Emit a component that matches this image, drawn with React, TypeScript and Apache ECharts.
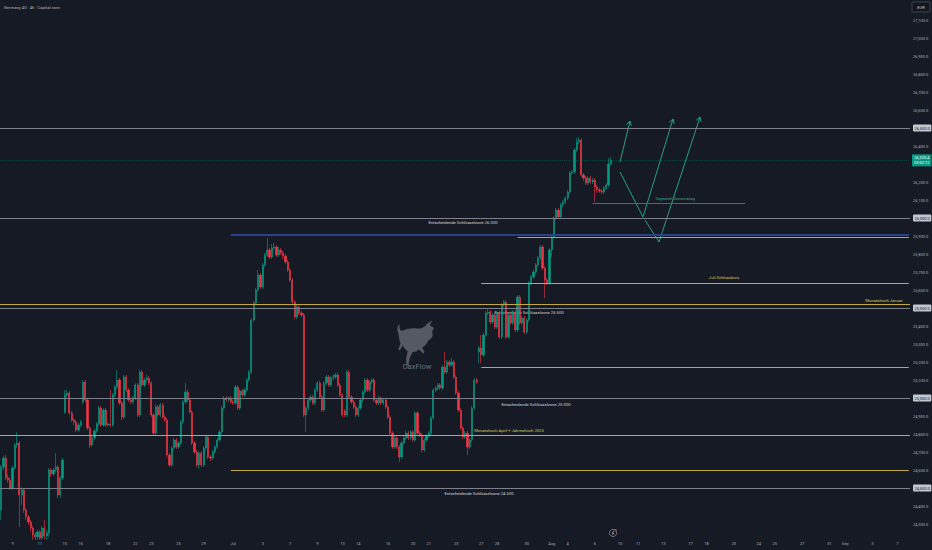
import React, { useEffect, useRef } from 'react';
import * as echarts from 'echarts';

// ---- candle data (4h bars) ----
const opens = [
  24378, 24617, 24667, 24555, 24544, 24500, 24611, 24739, 24750, 24461,
  24489, 24378, 24339, 24311, 24278, 24239, 24228, 24256, 24222, 24278,
  24233, 24250, 24600, 24578, 24600, 24617, 24461, 24555, 24922, 25017,
  25028, 24917, 24878, 24867, 24822, 24850, 24978, 25089, 24989, 24833,
  24739, 24778, 24817, 24855, 24944, 24850, 24933, 24850, 24855, 24850,
  25017, 25061, 25100, 24972, 24894, 25117, 25044, 24989, 24978, 25000,
  25072, 24906, 25144, 25072, 25100, 25111, 25083, 24906, 24805, 24950,
  24906, 24961, 24894, 24878, 24683, 24628, 24722, 24767, 24728, 24750,
  24867, 24978, 25033, 24989, 24922, 24750, 24700, 24628, 24694, 24628,
  24722, 24783, 24672, 24667, 24700, 24728, 24767, 24811, 24944, 25000,
  24989, 25000, 24978, 24972, 25061, 24944, 25039, 25017, 25044, 25100,
  25144, 25433, 25528, 25600, 25683, 25617, 25739, 25794, 25822, 25783,
  25833, 25839, 25794, 25822, 25806, 25789, 25756, 25711, 25656, 25533,
  25450, 25505, 25472, 25461, 24906, 24944, 24989, 25005, 24972, 25044,
  25083, 25005, 24933, 25083, 25117, 25072, 25111, 25117, 25128, 25072,
  25017, 24928, 24906, 25144, 25005, 24978, 24950, 24906, 24944, 24989,
  25033, 25100, 25044, 25089, 25100, 24989, 24972, 25000, 24972, 24989,
  24950, 24894, 24805, 24728, 24778, 24728, 24672, 24750, 24778, 24805,
  24778, 24811, 24767, 24917, 24805, 24794, 24711, 24767, 24789, 24805,
  24889, 25044, 25055, 25072, 25055, 25172, 25144, 25200, 25183, 25200,
  25117, 25028, 24933, 24833, 24783, 24805, 24728, 24767, 24944, 25100,
  25255, 25278, 25239, 25350, 25472, 25478, 25422, 25461, 25394, 25472,
  25339, 25517, 25533, 25339, 25461, 25417, 25478, 25378, 25561, 25417,
  25444, 25367, 25433, 25639, 25672, 25700, 25739, 25778, 25839, 25722,
  25656, 25639, 25822, 25894, 26000, 26044, 26006, 26072, 26089, 26111,
  26144, 26250, 26256, 26378, 26422, 26433, 26239, 26222, 26194, 26222,
  26200, 26211, 26172, 26156, 26150, 26144, 26167, 26183, 26300,
];
const closes = [
  24617, 24667, 24555, 24544, 24500, 24611, 24739, 24750, 24461, 24489,
  24378, 24339, 24311, 24278, 24239, 24228, 24256, 24222, 24278, 24233,
  24250, 24600, 24578, 24600, 24617, 24461, 24555, 24656, 25017, 25028,
  24917, 24878, 24867, 24822, 24850, 24867, 25089, 24989, 24833, 24739,
  24778, 24817, 24855, 24944, 24850, 24933, 24850, 24855, 24850, 25017,
  25061, 25100, 24972, 24894, 25117, 25044, 24989, 24978, 25000, 25072,
  24906, 25144, 25072, 25100, 25111, 25083, 24906, 24805, 24950, 24906,
  24961, 24894, 24878, 24683, 24628, 24722, 24767, 24728, 24750, 24867,
  24978, 25033, 24989, 24922, 24750, 24700, 24628, 24694, 24628, 24722,
  24783, 24672, 24667, 24700, 24728, 24767, 24811, 24944, 25000, 24989,
  25000, 24978, 24972, 25061, 24944, 25039, 25017, 25044, 25100, 25144,
  25433, 25528, 25600, 25683, 25617, 25739, 25794, 25822, 25783, 25833,
  25839, 25794, 25822, 25806, 25789, 25756, 25711, 25656, 25533, 25450,
  25505, 25472, 25461, 24906, 24944, 24989, 25005, 24972, 25044, 25083,
  25005, 24933, 25083, 25117, 25072, 25111, 25117, 25128, 25072, 25017,
  24906, 24906, 25144, 25005, 24978, 24950, 24906, 24944, 24989, 25033,
  25100, 25044, 25089, 25100, 24989, 24972, 25000, 24972, 24989, 24950,
  24894, 24805, 24728, 24778, 24728, 24672, 24750, 24778, 24805, 24778,
  24811, 24767, 24917, 24805, 24794, 24711, 24767, 24789, 24805, 24889,
  25044, 25055, 25072, 25055, 25172, 25144, 25200, 25183, 25200, 25117,
  25028, 24933, 24833, 24783, 24805, 24728, 24767, 24944, 25100, 25089,
  25278, 25239, 25350, 25472, 25478, 25422, 25461, 25394, 25472, 25339,
  25517, 25533, 25339, 25461, 25417, 25478, 25378, 25561, 25417, 25444,
  25367, 25433, 25639, 25672, 25700, 25739, 25778, 25839, 25722, 25656,
  25639, 25822, 25894, 26000, 26044, 26006, 26072, 26089, 26111, 26144,
  26250, 26256, 26378, 26422, 26433, 26239, 26222, 26194, 26222, 26200,
  26211, 26172, 26156, 26150, 26144, 26167, 26183, 26300, 26320.4,
];
const lows = [
  24322, 24600, 24544, 24528, 24489, 24489, 24600, 24722, 24283, 24405,
  24361, 24322, 24294, 24256, 24211, 24211, 24211, 24211, 24211, 24215,
  24211, 24228, 24561, 24567, 24589, 24444, 24444, 24544, 24911, 25005,
  24906, 24867, 24850, 24811, 24811, 24839, 24967, 24978, 24822, 24722,
  24728, 24767, 24805, 24844, 24839, 24839, 24839, 24839, 24839, 24839,
  25005, 25050, 24961, 24878, 24883, 25033, 24978, 24967, 24967, 24989,
  24894, 24894, 25061, 25061, 25089, 25072, 24894, 24794, 24794, 24894,
  24894, 24883, 24867, 24672, 24617, 24617, 24711, 24717, 24717, 24739,
  24856, 24967, 24978, 24911, 24739, 24689, 24617, 24605, 24617, 24617,
  24711, 24661, 24650, 24656, 24689, 24717, 24756, 24800, 24933, 24978,
  24978, 24967, 24961, 24961, 24933, 24933, 25005, 25005, 25033, 25089,
  25133, 25422, 25517, 25589, 25606, 25606, 25728, 25783, 25772, 25772,
  25822, 25783, 25783, 25794, 25772, 25744, 25700, 25644, 25522, 25439,
  25439, 25461, 25450, 24894, 24811, 24933, 24978, 24961, 24961, 25033,
  24994, 24922, 24922, 25072, 25061, 25061, 25100, 25106, 25061, 25005,
  24894, 24894, 24894, 24994, 24967, 24939, 24894, 24894, 24933, 24978,
  25022, 25033, 25033, 25078, 24978, 24961, 24961, 24961, 24961, 24939,
  24883, 24794, 24717, 24717, 24717, 24644, 24661, 24739, 24767, 24767,
  24767, 24756, 24756, 24794, 24783, 24700, 24700, 24756, 24778, 24794,
  24878, 25033, 25044, 25044, 25044, 25133, 25133, 25172, 25172, 25106,
  25017, 24922, 24822, 24772, 24772, 24683, 24717, 24756, 24933, 25078,
  25194, 25194, 25228, 25339, 25461, 25411, 25411, 25383, 25383, 25328,
  25328, 25506, 25328, 25328, 25406, 25406, 25367, 25367, 25406, 25406,
  25356, 25356, 25422, 25628, 25661, 25689, 25728, 25767, 25711, 25555,
  25628, 25628, 25783, 25883, 25989, 25994, 25994, 26061, 26078, 26100,
  26133, 26239, 26244, 26367, 26411, 26228, 26206, 26183, 26183, 26189,
  26189, 26089, 26139, 26139, 26133, 26133, 26156, 26172, 26290,
];
const highs = [
  24628, 24678, 24683, 24578, 24561, 24622, 24750, 24811, 24761, 24505,
  24500, 24389, 24350, 24322, 24289, 24256, 24267, 24267, 24289, 24322,
  24267, 24611, 24611, 24611, 24694, 24628, 24567, 24667, 25044, 25044,
  25039, 24928, 24889, 24878, 24861, 24878, 25100, 25100, 25000, 24844,
  24789, 24828, 24867, 24956, 24956, 24944, 24944, 24867, 25044, 25028,
  25072, 25156, 25111, 24983, 25128, 25128, 25055, 25000, 25011, 25083,
  25083, 25156, 25156, 25111, 25128, 25122, 25094, 24917, 24961, 24961,
  24972, 24972, 24906, 24889, 24694, 24733, 24778, 24778, 24761, 24878,
  24989, 25083, 25044, 25000, 24933, 24761, 24711, 24706, 24706, 24733,
  24794, 24794, 24683, 24711, 24739, 24778, 24822, 24956, 25011, 25011,
  25011, 25011, 24989, 25072, 25072, 25050, 25050, 25055, 25111, 25156,
  25444, 25539, 25611, 25711, 25694, 25750, 25806, 25889, 25833, 25856,
  25861, 25850, 25839, 25833, 25817, 25800, 25767, 25722, 25667, 25544,
  25517, 25517, 25483, 25472, 24956, 25000, 25017, 25017, 25055, 25094,
  25094, 25017, 25094, 25128, 25128, 25122, 25133, 25139, 25139, 25083,
  25028, 24939, 25156, 25156, 25017, 24989, 24961, 24956, 25000, 25044,
  25111, 25111, 25100, 25111, 25111, 25000, 25011, 25011, 25000, 25000,
  24961, 24906, 24817, 24789, 24789, 24739, 24761, 24789, 24817, 24817,
  24822, 24822, 24928, 24928, 24817, 24806, 24778, 24800, 24817, 24900,
  25055, 25067, 25083, 25083, 25183, 25256, 25211, 25211, 25222, 25211,
  25128, 25039, 24944, 24844, 24817, 24817, 24778, 24956, 25111, 25111,
  25289, 25350, 25361, 25483, 25494, 25489, 25472, 25472, 25483, 25483,
  25528, 25544, 25544, 25472, 25472, 25489, 25489, 25572, 25572, 25456,
  25456, 25444, 25650, 25683, 25711, 25750, 25789, 25850, 25850, 25733,
  25667, 25833, 25906, 26011, 26056, 26056, 26083, 26100, 26122, 26156,
  26261, 26267, 26389, 26444, 26450, 26444, 26250, 26233, 26233, 26233,
  26222, 26222, 26183, 26167, 26161, 26178, 26194, 26333, 26340,
];

// ---- time axis: 4h slots (incl. empty future slots) and day labels ----
const slotCount = 400;
const tickIndex = [5, 17, 28, 35, 47, 59, 66, 78, 89, 102, 115, 127, 139, 150, 157, 170, 181, 188, 200,
  211, 218, 231, 242, 249, 261, 272, 280, 291, 303, 310, 322, 333, 340, 352, 364, 371, 383, 394];
const tickLabels = ['9', '11', '15', '16', '18', '22', '23', '25', '29', 'Jul', '3', '7', '9', '13', '14', '16', '20', '21', '23',
  '27', '28', '30', 'Aug', '4', '6', '10', '11', '13', '17', '18', '20', '24', '25', '27', '31', 'Sep', '3', '7'];

// ---- price levels ----
const keyZoneLevels = [26500, 26000, 25500, 25000, 24500];
const yellowFullLevels = [25520, 24795];
const yellowSegLevels = [25893, 25640, 25172, 24600];
const yellowSegStarts = [227, 211, 211, 101];
const blueLevel = 25905;
const blueStart = 101;
const dayLowLevel = 26083;
const dayLowRange = [260, 327];
const lastPrice = 26320.4;
const countdown = '03:02:12';

const noteTexts = [
  'Entscheidende Schlüsselzone 26.000',
  'Entscheidende Schlüsselzone 25.500',
  'Entscheidende Schlüsselzone 25.000',
  'Entscheidende Schlüsselzone 24.500',
  'Juli Schlusskurs',
  'Monatshoch Januar',
  'Monatshoch April + Jahreshoch 2025',
  'Tagestief Donnerstag',
];

const BULL_PATH =
  'M8,30 C4,22 6,12 12,10 C10,16 11,22 16,26 C26,22 40,18 56,20 C64,21 70,18 76,14 C80,8 86,4 94,2 C90,6 87,10 88,14 C92,14 96,16 98,20 C94,22 92,26 94,32 C95,40 90,46 84,48 C80,56 74,62 68,66 L74,76 L70,80 L60,70 C56,74 50,76 44,76 L36,92 L34,108 L28,108 L28,90 L32,74 C26,72 22,66 20,60 L12,72 L8,70 L14,56 C10,48 10,40 8,30 Z';

let bullRegistered = false;
function ensureBull() {
  if (bullRegistered) return;
  echarts.graphic.registerShape('bull', echarts.graphic.extendPath(BULL_PATH, {}));
  bullRegistered = true;
}

const fmt = (v: number) =>
  v.toLocaleString('en-US', { minimumFractionDigits: 1, maximumFractionDigits: 1 });

export default function App() {
  const ref = useRef<HTMLDivElement>(null);

  useEffect(() => {
    if (!ref.current) return;
    ensureBull();
    const chart = echarts.init(ref.current, null, { renderer: 'svg' });

    const categories: string[] = [];
    for (let i = 0; i < slotCount; i++) categories.push('');
    tickIndex.forEach((idx, i) => (categories[idx] = tickLabels[i]));

    const candles = opens.map((o, i) => [o, closes[i], lows[i], highs[i]]);
    const last = slotCount - 1;

    const GRAY = '#7d808a';
    const YELLOW = '#bfa845';
    const FONT = 'Roboto, "Liberation Sans", sans-serif';

    const markData: any[] = [
      ...keyZoneLevels.map((v) => ({ yAxis: v, lineStyle: { color: GRAY, width: 1, type: 'solid' } })),
      ...yellowFullLevels.map((v) => ({ yAxis: v, lineStyle: { color: YELLOW, width: 1.2, type: 'solid' } })),
      [
        { coord: [blueStart, blueLevel], lineStyle: { color: '#27408f', width: 1.8, type: 'solid' } },
        { coord: [last, blueLevel] },
      ],
      ...yellowSegLevels.map((v, i) => [
        { coord: [yellowSegStarts[i], v], lineStyle: { color: YELLOW, width: 1.2, type: 'solid' } },
        { coord: [last, v] },
      ]),
      [
        { coord: [dayLowRange[0], dayLowLevel], lineStyle: { color: '#4f6a60', width: 1, type: 'solid' } },
        { coord: [dayLowRange[1], dayLowLevel] },
      ],
      {
        yAxis: lastPrice,
        lineStyle: { color: 'rgba(8,153,129,0.3)', width: 1, type: 'dotted' },
        label: {
          show: true,
          position: 'end',
          distance: 2,
          formatter: fmt(lastPrice) + '\n' + countdown,
          backgroundColor: '#089981',
          color: '#ffffff',
          fontSize: 4,
          lineHeight: 5,
          fontFamily: FONT,
          padding: [1, 2],
        },
      },
    ];

    const txt = (text: string, x: number, y: number, fill: string, size = 4.2, align = 'center') => ({
      type: 'text',
      silent: true,
      style: { text, x, y, fill, fontSize: size, fontFamily: FONT, textAlign: align, textVerticalAlign: 'middle' },
    });

    const arrowColor = '#27a07a';
    const pl = (points: number[][]) => ({
      type: 'polyline',
      silent: true,
      shape: { points },
      style: { stroke: arrowColor, lineWidth: 1, fill: 'none' },
    });

    const option: any = {
      animation: false,
      backgroundColor: '#161a25',
      grid: { left: 0, right: 22, top: 2, bottom: 8, containLabel: false, outerBoundsMode: 'none' },
      xAxis: {
        type: 'category',
        data: categories,
        boundaryGap: true,
        axisLine: { show: false },
        axisTick: { show: false },
        splitLine: { show: false },
        axisLabel: { interval: 0, color: '#a9acb5', fontSize: 4, margin: -1, fontFamily: FONT },
      },
      yAxis: {
        type: 'value',
        position: 'right',
        min: 24200,
        max: 27200,
        interval: 100,
        scale: true,
        axisLine: { show: false },
        axisTick: { show: false },
        splitLine: { show: false },
        axisLabel: {
          color: '#a9acb5',
          fontSize: 4,
          margin: 3,
          fontFamily: FONT,
          formatter: (v: number) => {
            if (v >= 27200 || v <= 24200 || v === 26300) return '';
            const s = fmt(v);
            return keyZoneLevels.indexOf(v) >= 0 ? '{b|' + s + '}' : s;
          },
          rich: {
            b: {
              backgroundColor: '#c4c7ce',
              color: '#131722',
              fontSize: 4,
              fontFamily: FONT,
              padding: [1.5, 1.5],
              borderRadius: 1,
            },
          },
        },
      },
      series: [
        {
          type: 'candlestick',
          data: candles,
          barWidth: 1.7,
          itemStyle: {
            color: '#089981',
            color0: '#f23645',
            borderColor: '#089981',
            borderColor0: '#f23645',
            borderWidth: 0.6,
          },
          markLine: {
            silent: true,
            symbol: ['none', 'none'],
            animation: false,
            label: { show: false },
            emphasis: { disabled: true },
            data: markData,
          },
        },
      ],
      graphic: [
        txt('Germany 40 · 4h · Capital.com', 4, 7, '#b2b5be', 4.2, 'left'),
        {
          type: 'rect',
          silent: true,
          shape: { x: 912, y: 2, width: 18, height: 10, r: 1 },
          style: { fill: '#131722', stroke: '#4a4e5a', lineWidth: 0.8 },
        },
        txt('EUR', 921, 7.2, '#c8cad0', 4),
        {
          type: 'bull',
          silent: true,
          x: 395,
          y: 320,
          scaleX: 0.4,
          scaleY: 0.42,
          style: { fill: 'rgba(128,132,144,0.6)' },
        },
        txt('DaxFlow', 417, 366, 'rgba(128,132,144,0.8)', 7.5),
        txt(noteTexts[0], 463, 222.5, '#d1d4dc'),
        txt(noteTexts[1], 529, 312.5, '#d1d4dc'),
        txt(noteTexts[2], 536, 404, '#d1d4dc'),
        txt(noteTexts[3], 479, 493, '#d1d4dc'),
        txt(noteTexts[4], 724, 277.5, '#d8c558'),
        txt(noteTexts[5], 884, 300.5, '#d8c558'),
        txt(noteTexts[6], 509, 430.5, '#d8c558'),
        txt(noteTexts[7], 675, 198.5, '#3aa882'),
        pl([[620, 162], [630, 121]]),
        pl([[626.5, 124.6], [630, 121], [631.4, 125.8]]),
        pl([[620, 172], [643, 217], [673, 119]]),
        pl([[669.3, 122.4], [673, 119], [674.1, 123.9]]),
        pl([[645, 220], [659, 242], [700, 117]]),
        pl([[696.3, 120.3], [700, 117], [701, 121.9]]),
        {
          type: 'circle',
          silent: true,
          shape: { cx: 613, cy: 533, r: 3.6 },
          style: { fill: '#161a25', stroke: '#8a8d97', lineWidth: 0.7 },
        },
        {
          type: 'polyline',
          silent: true,
          shape: { points: [[614, 530.8], [612.3, 533.3], [613.8, 533.1], [612.2, 535.4]] },
          style: { stroke: '#c8cad0', lineWidth: 0.6, fill: 'none' },
        },
        {
          type: 'circle',
          silent: true,
          shape: { cx: 615.8, cy: 530, r: 0.9 },
          style: { fill: '#f23645' },
        },
      ],
    };

    chart.setOption(option);
    return () => chart.dispose();
  }, []);

  return (
    <div
      ref={ref}
      style={{ position: 'fixed', left: 0, top: 0, width: 932, height: 550, background: '#161a25' }}
    />
  );
}
